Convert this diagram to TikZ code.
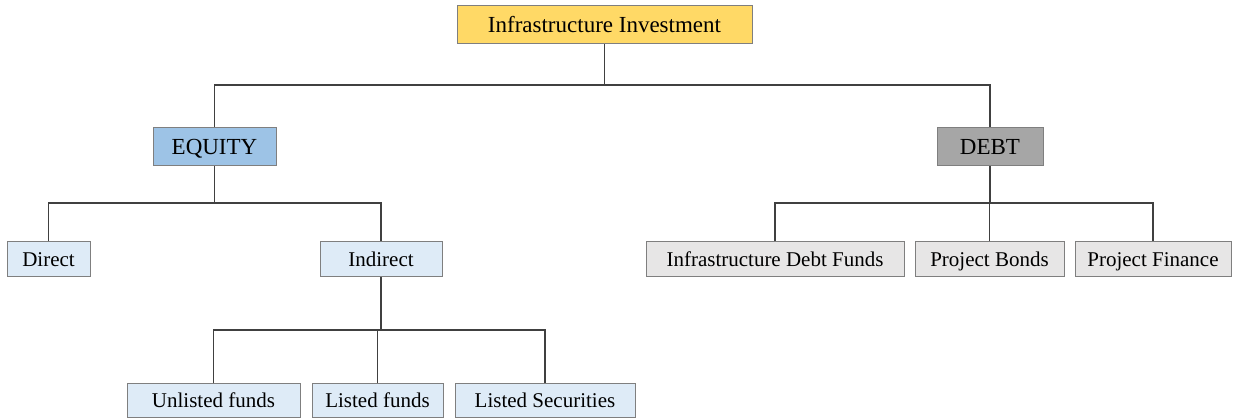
\documentclass[tikz,border=0pt]{standalone}
\usepackage{fontspec}
\setmainfont{Liberation Serif}
\definecolor{rootfill}{HTML}{FFD966}
\definecolor{eqfill}{HTML}{9DC3E6}
\definecolor{debtfill}{HTML}{A6A6A6}
\definecolor{eqleaf}{HTML}{DEEBF7}
\definecolor{debtleaf}{HTML}{E7E6E6}
\definecolor{edge}{HTML}{7F7F7F}
\definecolor{wire}{HTML}{404040}
\begin{document}
\begin{tikzpicture}[x=1pt,y=-1pt,
  box/.style={draw=edge,line width=1pt,inner sep=0pt,text=black},
  bigbox/.style={box,minimum height=38pt,font=\fontsize{23}{27}\selectfont,
    text height=20.7pt,text depth=5.5pt},
  leaf/.style={box,minimum height=35pt,font=\fontsize{21}{25}\selectfont,
    text height=18.9pt,text depth=5pt},
  link/.style={draw=wire,line width=1.2pt}]
\useasboundingbox (0,0) rectangle (1237,419);
\fill[white] (0,0) rectangle (1237,419);

% top level
\node[bigbox,fill=rootfill,minimum width=295pt] (root) at (604.5,25) {Infrastructure Investment};
\node[bigbox,fill=eqfill,minimum width=123pt] (equity) at (214.5,146.5) {EQUITY};
\node[bigbox,fill=debtfill,minimum width=106pt] (debt) at (990,146.5) {DEBT};

% equity branch
\node[leaf,fill=eqleaf,minimum width=83pt] (direct) at (48.5,259.5) {Direct};
\node[leaf,fill=eqleaf,minimum width=122pt] (indirect) at (381,259.5) {Indirect};
\node[leaf,fill=eqleaf,minimum width=173pt,minimum height=34pt] (unlisted) at (213.5,401) {Unlisted funds};
\node[leaf,fill=eqleaf,minimum width=131pt,minimum height=34pt] (listedf) at (377.5,401) {Listed funds};
\node[leaf,fill=eqleaf,minimum width=180pt,minimum height=34pt] (listeds) at (545,401) {Listed Securities};

% debt branch
\node[leaf,fill=debtleaf,minimum width=258pt] (idf) at (775,259.5) {Infrastructure Debt Funds};
\node[leaf,fill=debtleaf,minimum width=149pt] (bonds) at (989.5,259.5) {Project Bonds};
\node[leaf,fill=debtleaf,minimum width=156pt] (pfin) at (1153,259.5) {Project Finance};

% bus heights
\coordinate (busA) at (0,85);
\coordinate (busB) at (0,203);
\coordinate (busC) at (0,330);

% connectors
\draw[link] (root.south) -- (root.south |- busA);
\draw[link] (equity.north) |- (busA -| debt.north) -- (debt.north);

\draw[link] (equity.south) -- (equity.south |- busB);
\draw[link] (direct.north) |- (busB -| indirect.north) -- (indirect.north);

\draw[link] (debt.south) -- (debt.south |- busB);
\draw[link] (idf.north) |- (busB -| pfin.north) -- (pfin.north);
\draw[link] (bonds.north) -- (bonds.north |- busB);

\draw[link] (indirect.south) -- (indirect.south |- busC);
\draw[link] (unlisted.north) |- (busC -| listeds.north) -- (listeds.north);
\draw[link] (listedf.north) -- (listedf.north |- busC);
\end{tikzpicture}
\end{document}
